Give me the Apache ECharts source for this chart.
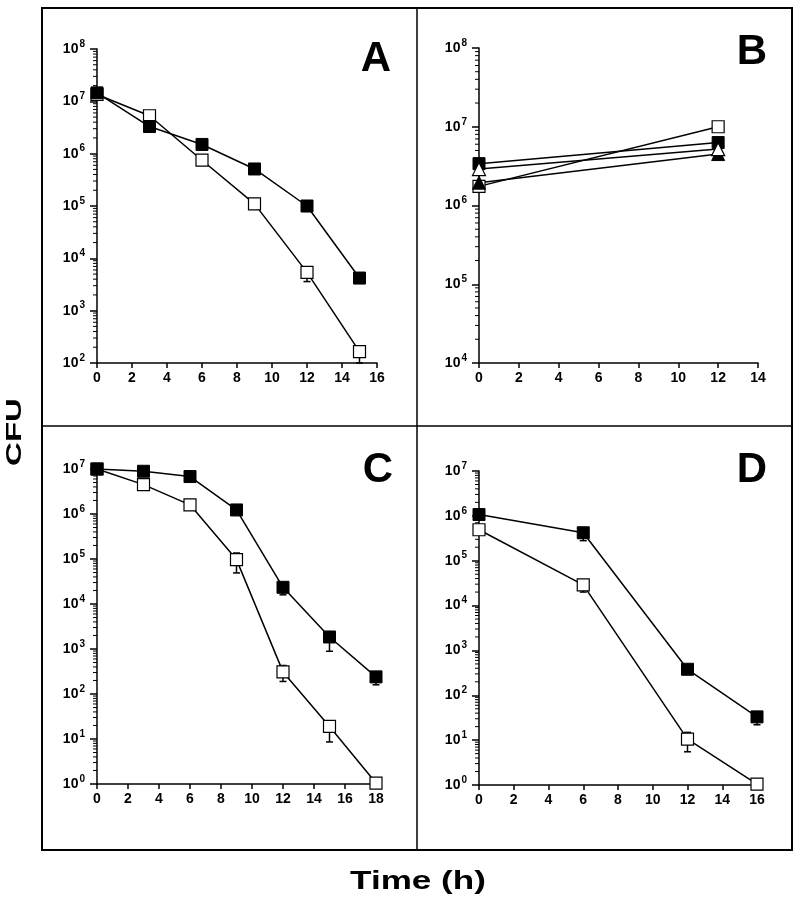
<!DOCTYPE html>
<html><head><meta charset="utf-8">
<script src="https://cdn.jsdelivr.net/npm/echarts@6/dist/echarts.min.js"></script>
<style>html,body{margin:0;padding:0;background:#fff}#c{width:798px;height:899px}</style>
</head><body><div id="c"></div>
<script>
// ---------- DATA ----------
const timeA = [0, 3, 6, 9, 12, 15];
const cfuA_filled = [1.45e7, 3.3e6, 1.5e6, 5.1e5, 1.0e5, 4.2e3];
const cfuA_open = [1.35e7, 5.3e6, 7.5e5, 1.1e5, 5.4e3, 1.65e2];
const lowA_filled = [null, null, null, null, 7.9e4, null];
const lowA_open = [null, null, null, null, 3.6e3, 1.0e2];

const timeB = [0, 12];
const cfuB_filledSq = [3.4e6, 6.3e6];
const cfuB_openTri = [2.9e6, 5.2e6];
const cfuB_filledTri = [1.95e6, 4.5e6];
const cfuB_openSq = [1.75e6, 1.0e7];

const timeC = [0, 3, 6, 9, 12, 15, 18];
const cfuC_filled = [1.0e7, 8.9e6, 6.8e6, 1.23e6, 2.35e4, 1.85e3, 2.4e2];
const cfuC_open = [1.0e7, 4.5e6, 1.6e6, 9.7e4, 3.1e2, 19, 1.05];
const lowC_filled = [null, null, null, null, 1.6e4, 8.9e2, 1.6e2];
const lowC_open = [null, null, null, 4.9e4, 1.9e2, 8.6, null];
const highC_open = [null, null, null, 1.36e5, 4.3e2, 25, null];

const timeD = [0, 6, 12, 16];
const cfuD_filled = [1.07e6, 4.2e5, 3.8e2, 33];
const cfuD_open = [4.9e5, 2.9e4, 10.5, 1.05];
const lowD_filled = [null, 2.8e5, null, 22];
const lowD_open = [null, 2.0e4, 5.5, null];
const highD_open = [null, null, 14.9, null];

const panelLetters = ['A', 'B', 'C', 'D'];
const xMaxes = [16, 14, 18, 16];
const yMins = [1e2, 1e4, 1e0, 1e0];
const yMaxes = [1e8, 1e8, 1e7, 1e7];
const minorMultipliers = [2, 3, 4, 5, 6, 7, 8, 9];
const yLabel = 'CFU';
const xLabel = 'Time (h)';

// ---------- LAYOUT ----------
const grids = [
  {left: 97, top: 49, width: 280, height: 314},
  {left: 479, top: 48, width: 279, height: 315},
  {left: 97, top: 469, width: 279, height: 315},
  {left: 479, top: 471, width: 278, height: 314}
];
const letterPos = [[376, 59], [752, 52], [378, 470], [752, 470]];
const FONT = '"Liberation Sans", Arial, Helvetica, sans-serif';

const pairs = (t, v) => t.map((x, i) => [x, v[i]]);

function lineSeries(gi, t, v, symbol, filled, size) {
  return {
    type: 'line', xAxisIndex: gi, yAxisIndex: gi, data: pairs(t, v),
    symbol: symbol, symbolSize: size || 12, showSymbol: true, z: 5,
    lineStyle: {color: '#000', width: 1.5},
    itemStyle: filled ? {color: '#000', borderColor: '#000', borderWidth: 1}
                      : {color: '#fff', borderColor: '#000', borderWidth: 1.2},
    emphasis: {disabled: true}, animation: false
  };
}

function errSeries(gi, t, v, lows, highs) {
  const items = [];
  t.forEach((x, i) => {
    const lo = lows ? lows[i] : null, hi = highs ? highs[i] : null;
    if (lo != null || hi != null) items.push({x: x, y: v[i], lo: lo, hi: hi});
  });
  return {
    type: 'custom', xAxisIndex: gi, yAxisIndex: gi, z: 3, silent: true, animation: false,
    data: items.map(d => [d.x, d.y]),
    renderItem: function (params, api) {
      const d = items[params.dataIndex];
      const c = api.coord([d.x, d.y]);
      const children = [];
      [d.lo, d.hi].forEach(b => {
        if (b == null) return;
        const p = api.coord([d.x, b]);
        children.push({type: 'line', shape: {x1: c[0], y1: c[1], x2: p[0], y2: p[1]}, style: {stroke: '#000', lineWidth: 1.5}});
        children.push({type: 'line', shape: {x1: p[0] - 3.5, y1: p[1], x2: p[0] + 3.5, y2: p[1]}, style: {stroke: '#000', lineWidth: 1.5}});
      });
      return {type: 'group', children: children};
    }
  };
}

function minorTickSeries(gi) {
  const vals = [];
  const e0 = Math.round(Math.log10(yMins[gi])), e1 = Math.round(Math.log10(yMaxes[gi]));
  for (let e = e0; e < e1; e++) minorMultipliers.forEach(m => vals.push([0, m * Math.pow(10, e)]));
  return {
    type: 'custom', xAxisIndex: gi, yAxisIndex: gi, z: 2, silent: true, animation: false, clip: false,
    data: vals,
    renderItem: function (params, api) {
      const p = api.coord([0, api.value(1)]);
      return {type: 'line', shape: {x1: p[0] - 4, y1: p[1], x2: p[0], y2: p[1]}, style: {stroke: '#000', lineWidth: 1}};
    }
  };
}

const xAxes = grids.map((g, i) => ({
  type: 'value', gridIndex: i, min: 0, max: xMaxes[i], interval: 2,
  axisLine: {show: true, lineStyle: {color: '#000', width: 1.5}},
  axisTick: {show: true, length: 5, lineStyle: {color: '#000', width: 1.5}},
  splitLine: {show: false},
  axisLabel: {color: '#000', fontSize: 14, fontWeight: 'bold', fontFamily: FONT, margin: 8}
}));

const yAxes = grids.map((g, i) => ({
  type: 'log', logBase: 10, gridIndex: i, min: yMins[i], max: yMaxes[i], interval: 1,
  axisLine: {show: true, lineStyle: {color: '#000', width: 1.5}},
  axisTick: {show: true, length: 7, lineStyle: {color: '#000', width: 1.5}},
  splitLine: {show: false},
  minorTick: {show: false},
  axisLabel: {
    margin: 12,
    formatter: v => '{b|10}{s|' + Math.round(Math.log10(v)) + '}',
    rich: {
      b: {color: '#000', fontSize: 14, fontWeight: 'bold', fontFamily: FONT, lineHeight: 20},
      s: {color: '#000', fontSize: 10, fontWeight: 'bold', fontFamily: FONT, lineHeight: 10, verticalAlign: 'top', padding: [0, 0, 0, 1]}
    }
  }
}));

const series = [
  errSeries(0, timeA, cfuA_filled, lowA_filled, null),
  errSeries(0, timeA, cfuA_open, lowA_open, null),
  lineSeries(0, timeA, cfuA_open, 'rect', false),
  lineSeries(0, timeA, cfuA_filled, 'rect', true),

  lineSeries(1, timeB, cfuB_openSq, 'rect', false),
  lineSeries(1, timeB, cfuB_filledSq, 'rect', true),
  lineSeries(1, timeB, cfuB_filledTri, 'triangle', true, 13),
  lineSeries(1, timeB, cfuB_openTri, 'triangle', false, 13),

  errSeries(2, timeC, cfuC_filled, lowC_filled, null),
  errSeries(2, timeC, cfuC_open, lowC_open, highC_open),
  lineSeries(2, timeC, cfuC_open, 'rect', false),
  lineSeries(2, timeC, cfuC_filled, 'rect', true),

  errSeries(3, timeD, cfuD_filled, lowD_filled, null),
  errSeries(3, timeD, cfuD_open, lowD_open, highD_open),
  lineSeries(3, timeD, cfuD_open, 'rect', false),
  lineSeries(3, timeD, cfuD_filled, 'rect', true),

  minorTickSeries(0), minorTickSeries(1), minorTickSeries(2), minorTickSeries(3)
];

const graphic = [
  {type: 'rect', shape: {x: 42, y: 8, width: 750, height: 842}, style: {fill: 'none', stroke: '#000', lineWidth: 2}, z: 10, silent: true},
  {type: 'line', shape: {x1: 417, y1: 8, x2: 417, y2: 850}, style: {stroke: '#000', lineWidth: 1.5}, z: 10, silent: true},
  {type: 'line', shape: {x1: 42, y1: 426, x2: 792, y2: 426}, style: {stroke: '#000', lineWidth: 1.5}, z: 10, silent: true},
  {type: 'text', x: 15, y: 432, rotation: Math.PI / 2, scaleX: 1.5, z: 10, silent: true,
   style: {text: yLabel, fill: '#000', fontSize: 22, fontWeight: 'bold', fontFamily: FONT, align: 'center', verticalAlign: 'middle'}},
  {type: 'text', x: 418, y: 882, scaleX: 1.35, z: 10, silent: true,
   style: {text: xLabel, fill: '#000', fontSize: 26, fontWeight: 'bold', fontFamily: FONT, align: 'center', verticalAlign: 'middle'}}
].concat(panelLetters.map((L, i) => ({
  type: 'text', x: letterPos[i][0], y: letterPos[i][1], z: 10, silent: true,
  style: {text: L, fill: '#000', fontSize: 42, fontWeight: 'bold', fontFamily: FONT, align: 'center', verticalAlign: 'middle'}
})));

const chart = echarts.init(document.getElementById('c'), null, {renderer: 'canvas'});
chart.setOption({
  backgroundColor: '#fff',
  animation: false,
  grid: grids.map(g => Object.assign({containLabel: false, outerBoundsMode: 'none'}, g)),
  xAxis: xAxes,
  yAxis: yAxes,
  series: series,
  graphic: graphic
});
</script>
</body></html>
